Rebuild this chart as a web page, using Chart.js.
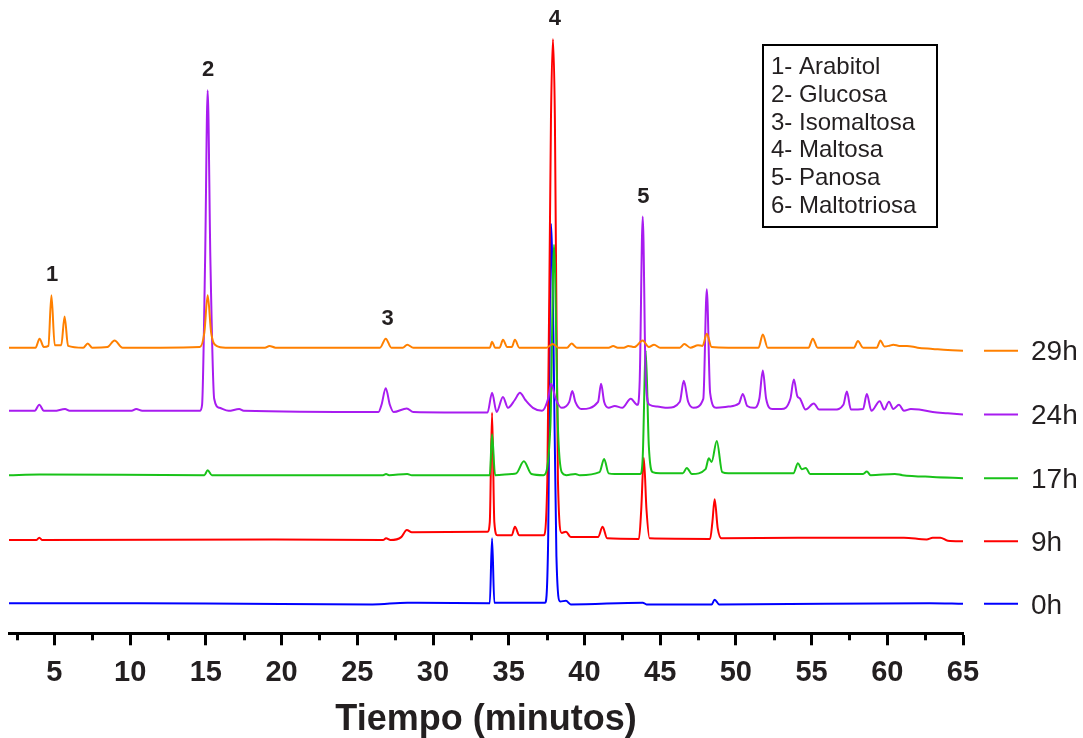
<!DOCTYPE html>
<html>
<head>
<meta charset="utf-8">
<title>Cromatograma</title>
<script src="https://cdn.jsdelivr.net/npm/chart.js@4.4.1/dist/chart.umd.min.js"></script>
<style>
    html, body { margin: 0; padding: 0; background: #fff; }
    #wrap { width: 1083px; height: 738px; }
</style>
</head>
<body>
<div id="wrap"><canvas id="chromChart" width="1083" height="738"></canvas></div>
<script>
const seriesNames = ['29h', '24h', '17h', '9h', '0h'];
const seriesColors = ['#ff8000', '#a81cf0', '#19c219', '#ff0000', '#0000ff'];
// vertical shift of each trace (same units as the signal)
const baselineOffsets = [47.5, 37, 26.3, 15.5, 4.8];

// [tiempo (min), señal]
const trace29h = [[2, 0], [3.75, 0], [4.02, 1.5], [4.3, 0.1], [4.6, 0.3], [4.8, 8.7], [5.02, 0.4], [5.45, 0.4], [5.67, 5.2], [5.9, 0.3],
    [6.9, 0], [7.2, 0.7], [7.5, 0], [8.5, 0.1], [8.97, 1.2], [9.5, 0], [12, 0], [14.6, 0.1], [14.9, 2.5], [15.12, 8.7], [15.35, 2.5],
    [15.7, 0.3], [16.3, 0], [18.9, 0], [19.2, 0.3], [19.6, 0], [26.5, 0], [26.88, 1.5], [27.25, 0], [28.0, 0], [28.3, 0.5], [28.7, 0],
    [33.75, 0], [33.9, 1.0], [34.1, 0], [34.4, 0], [34.62, 1.3], [34.9, 0.1], [35.2, 0.1], [35.41, 1.3], [35.7, 0], [37.5, 0],
    [37.9, 0.6], [38.3, 0], [38.85, 0], [39.15, 0.7], [39.5, 0], [41.6, 0], [41.9, 0.3], [42.2, 0], [42.6, 0], [42.9, 0.3],
    [43.3, 0.1], [43.85, 1.2], [44.25, 0.1], [44.6, 0.5], [45, 0], [46.3, 0], [46.6, 0.6], [47, 0], [47.5, 0.4], [47.8, 0.3],
    [48.08, 2.3], [48.4, 0.1], [49.5, 0], [51.5, 0], [51.78, 2.2], [52.1, 0], [54.8, 0], [55.08, 1.5], [55.4, 0], [57.8, 0],
    [58.06, 1.1], [58.4, 0], [59.3, 0], [59.55, 1.2], [59.8, 0.2], [60.1, 0.3], [60.4, 0.5], [60.8, 0.3], [61.3, 0.3], [62, 0],
    [63, -0.2], [64, -0.4], [65, -0.5]];

const trace24h = [[2, 0], [3.7, 0], [4.0, 1.0], [4.3, 0], [5.0, 0], [5.7, 0.3], [6.0, 0], [10.1, 0], [10.4, 0.3], [10.8, 0],
    [14.6, 0], [14.75, 1], [14.95, 25], [15.12, 53.3], [15.3, 25], [15.55, 2], [15.9, 0.5], [16.5, 0], [17.2, 0.3], [17.5, 0],
    [26.4, -0.2], [26.6, 1], [26.88, 3.75], [27.15, 1], [27.4, -0.2], [28.27, 0.4], [28.7, -0.2], [33.6, -0.3], [33.9, 3.0],
    [34.2, -0.2], [34.62, 2.3], [34.95, 0.5], [35.4, 1.8], [35.74, 3.0], [36.1, 1.8], [36.6, 0.5], [37.2, 0], [37.6, 2],
    [37.8, 4.5], [38.1, 2], [38.5, 0.5], [39.0, 1.5], [39.2, 3.3], [39.4, 1.5], [39.8, 0.3], [40.9, 1.5], [41.1, 4.5], [41.3, 1.5],
    [41.6, 0.5], [42.0, 0.8], [42.5, 0.5], [43.06, 2.0], [43.5, 1.0], [43.65, 5], [43.85, 32.3], [44.05, 5], [44.3, 1.0],
    [44.8, 0.7], [45.5, 0.5], [46.3, 1.5], [46.56, 5.0], [46.85, 1.5], [47.2, 0.5], [47.85, 2], [48.08, 20.2], [48.3, 3],
    [48.7, 0.5], [49.5, 0.7], [50.2, 1.2], [50.46, 2.8], [50.75, 0.8], [51.2, 0.5], [51.55, 2], [51.78, 6.7], [52.0, 2],
    [52.4, 0.3], [53.0, 0.3], [53.6, 2], [53.83, 5.2], [54.05, 2.5], [54.25, 2.0], [54.6, 0.2], [55.15, 1.2], [55.5, 0.2],
    [56.5, 0.2], [57.1, 1], [57.33, 3.2], [57.6, 0.2], [58.4, 0.3], [58.65, 2.8], [58.95, 0], [59.5, 1.6], [59.8, 0.2],
    [60.11, 1.5], [60.4, 0.3], [60.77, 1.0], [61.1, 0], [61.56, 0.3], [62.1, 0.2], [63, -0.2], [64, -0.4], [65, -0.6]];

const trace17h = [[2, 0], [4.0, 0.1], [14.9, 0], [15.12, 0.8], [15.4, 0], [26.7, 0], [26.9, 0.2], [27.1, 0], [28.3, 0.2],
    [28.6, 0], [33.75, 0], [33.9, 6.8], [34.1, 0], [35.2, 0.2], [35.5, 0.3], [36.0, 2.3], [36.5, 0.2], [37.3, 0], [37.75, 8],
    [37.99, 38.3], [38.25, 8], [38.5, 0.5], [38.8, 0], [39.4, 0.2], [39.7, 0], [41.0, 0.5], [41.3, 2.7], [41.6, 0.3],
    [42.0, 0.2], [43.7, 0.2], [43.85, 3], [44.05, 20.7], [44.25, 5], [44.5, 0.5], [45, 0.3], [46.5, 0.3], [46.76, 1.2],
    [47.1, 0.2], [48.0, 1.0], [48.21, 2.8], [48.4, 2.2], [48.74, 5.7], [49.1, 0.5], [49.5, 0.3], [53.8, 0.3], [54.1, 2.0],
    [54.35, 1], [54.62, 1.2], [54.9, 0.2], [58.4, 0.2], [58.65, 0.6], [58.9, 0], [60.5, 0.2], [61, 0], [63, -0.3], [65, -0.5]];

const trace9h = [[2, 0], [3.8, 0], [4.0, 0.4], [4.2, 0], [19.5, 0.1], [26.7, 0], [26.9, 0.3], [27.2, 0], [27.9, 0.5],
    [28.27, 1.7], [28.6, 1.3], [33.6, 1.4], [33.75, 3], [33.9, 21.2], [34.05, 3], [34.25, 0.8], [35.2, 0.8], [35.41, 2.2],
    [35.7, 0.8], [37.3, 0.8], [37.55, 10], [37.79, 70], [37.92, 83.3], [38.05, 70], [38.25, 10], [38.5, 1.2], [38.78, 1.4],
    [39.1, 0.5], [40.9, 0.5], [41.2, 2.2], [41.5, 0.3], [43.6, 0.2], [43.75, 5], [43.92, 13.7], [44.1, 5], [44.3, 0.3],
    [48.3, 0.2], [48.45, 3], [48.6, 6.8], [48.8, 2], [49.05, 0.3], [54.1, 0.4], [61.1, 0.4], [62.6, 0.1], [63.0, 0.4],
    [63.5, 0.4], [64, -0.1], [65, -0.2]];

const trace0h = [[2, 0.2], [10.5, 0.2], [17.5, 0.1], [26, 0], [28.3, 0.3], [29, 0.3], [33.75, 0.2], [33.9, 11], [34.05, 0.3],
    [37.4, 0.3], [37.6, 10], [37.79, 63.3], [37.95, 45], [38.15, 8], [38.4, 0.5], [38.78, 0.6], [39.1, 0], [43.85, 0.3],
    [44.1, 0], [48.4, 0], [48.6, 0.8], [48.9, 0], [62.8, 0.2], [65, 0.1]];

const peakNumbers = ['1', '2', '3', '4', '5'];
const peakTimes = [4.85, 15.15, 27.0, 38.05, 43.9];
const compoundNames = ['1- Arabitol', '2- Glucosa', '3- Isomaltosa', '4- Maltosa', '5- Panosa', '6- Maltotriosa'];
const xTicks = [2.5, 5, 7.5, 10, 12.5, 15, 17.5, 20, 22.5, 25, 27.5, 30, 32.5, 35, 37.5, 40, 42.5, 45, 47.5, 50, 52.5, 55, 57.5, 60, 62.5, 65];
const xLabels = [5, 10, 15, 20, 25, 30, 35, 40, 45, 50, 55, 60, 65];

const FONT = '"Liberation Sans", Arial, sans-serif';
const TEXT = '#231f20';

const traces = [trace29h, trace24h, trace17h, trace9h, trace0h];
const datasets = traces.map((tr, i) => ({
    label: seriesNames[i],
    data: tr.map(p => ({ x: p[0], y: p[1] + baselineOffsets[i] })),
    borderColor: seriesColors[i],
    borderWidth: 2,
    pointRadius: 0,
    cubicInterpolationMode: 'monotone',
    fill: false
}));

const extras = {
    id: 'extras',
    afterDraw(chart) {
        const { ctx, chartArea, scales: { x, y } } = chart;
        ctx.save();

        // minor ticks
        ctx.strokeStyle = '#000';
        ctx.lineWidth = 3;
        xTicks.filter(v => !xLabels.includes(v)).forEach(v => {
            const px = Math.round(x.getPixelForValue(v)) + 0.5;
            ctx.beginPath();
            ctx.moveTo(px, chartArea.bottom);
            ctx.lineTo(px, chartArea.bottom + 7);
            ctx.stroke();
        });

        // peak numbers
        ctx.font = 'bold 22px ' + FONT;
        ctx.fillStyle = TEXT;
        ctx.textAlign = 'center';
        ctx.textBaseline = 'alphabetic';
        peakNumbers.forEach((n, i) => {
            let top = Infinity;
            chart.data.datasets.forEach(ds => ds.data.forEach(p => {
                if (Math.abs(p.x - peakTimes[i]) < 0.25) top = Math.min(top, y.getPixelForValue(p.y));
            }));
            ctx.fillText(n, x.getPixelForValue(peakTimes[i]), top - 14);
        });

        // series labels on the right
        ctx.font = '28px ' + FONT;
        ctx.textAlign = 'left';
        ctx.textBaseline = 'middle';
        chart.data.datasets.forEach(ds => {
            const last = ds.data[ds.data.length - 1];
            const py = y.getPixelForValue(last.y);
            ctx.strokeStyle = ds.borderColor;
            ctx.lineWidth = 2;
            ctx.beginPath();
            ctx.moveTo(chartArea.right + 21, py);
            ctx.lineTo(chartArea.right + 55, py);
            ctx.stroke();
            ctx.fillStyle = TEXT;
            ctx.fillText(ds.label, chartArea.right + 68, py + 2);
        });

        // compound box
        ctx.strokeStyle = '#000';
        ctx.lineWidth = 2;
        ctx.strokeRect(763, 45, 174, 182);
        ctx.font = '24px ' + FONT;
        ctx.fillStyle = TEXT;
        compoundNames.forEach((name, i) => {
            ctx.fillText(name, 771, 67.5 + i * 27.7);
        });

        ctx.restore();
    }
};

new Chart(document.getElementById('chromChart'), {
    type: 'line',
    data: { datasets },
    options: {
        responsive: false,
        animation: false,
        devicePixelRatio: 1,
        layout: { padding: { left: 9, right: 120, top: 32, bottom: 0 } },
        plugins: { legend: { display: false }, tooltip: { enabled: false } },
        scales: {
            x: {
                type: 'linear',
                min: 2,
                max: 65,
                afterBuildTicks: axis => { axis.ticks = xTicks.map(v => ({ value: v })); },
                ticks: {
                    autoSkip: false,
                    maxRotation: 0,
                    padding: 9,
                    color: TEXT,
                    font: { family: FONT, size: 29, weight: 'bold', lineHeight: 1.3 },
                    callback: v => xLabels.includes(v) ? String(v) : ''
                },
                grid: {
                    drawOnChartArea: false,
                    drawTicks: true,
                    tickLength: 12,
                    tickWidth: 3,
                    tickColor: c => (c.tick && xLabels.includes(c.tick.value)) ? '#000' : 'rgba(0,0,0,0)'
                },
                border: { display: true, color: '#000', width: 3 },
                title: {
                    display: true,
                    text: 'Tiempo (minutos)',
                    color: TEXT,
                    font: { family: FONT, size: 36, weight: 'bold', lineHeight: 1 },
                    padding: { top: 1, bottom: 0 }
                }
            },
            y: { display: false, min: 0, max: 100 }
        }
    },
    plugins: [extras]
});
</script>
</body>
</html>
